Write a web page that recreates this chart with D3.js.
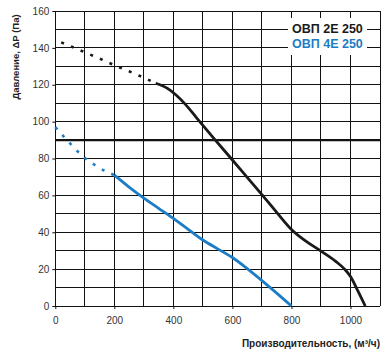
<!DOCTYPE html>
<html><head><meta charset="utf-8">
<script src="https://cdn.jsdelivr.net/npm/d3@7"></script>
<style>body{margin:0;background:#fff}svg{display:block}</style>
</head><body>
<svg id="c" width="387" height="354"></svg>
<script>
const xTicks = [0, 200, 400, 600, 800, 1000];
const yTicks = [0, 20, 40, 60, 80, 100, 120, 140, 160];
const seriesNames = ["ОВП 2Е 250", "ОВП 4Е 250"];
const black2EDashed = [[20,143],[60,140.3],[100,137.6],[150,134.2],[200,130.6],[250,127.3],[300,123.8],[340,120.8]];
const black2ESolid = [[340,120.8],[380,118],[410,114.3],[440,109.5],[480,101.8],[540,90.4],[600,79.2],[650,69.8],[700,60.4],[750,50.8],[800,41.5],[850,35],[900,29.8],[950,24.2],[980,20],[1000,16],[1025,8.2],[1050,0]];
const blue4EDashed = [[0,97],[27,92.2],[53,87.7],[95,81],[129,77],[174,72.8],[200,71]];
const blue4ESolid = [[200,71],[250,64.5],[300,58.5],[350,53],[400,47.5],[450,41.6],[500,35.8],[550,31],[600,26.3],[650,20.3],[700,13.8],[750,7],[800,0]];
const refLine = 90;

const svg = d3.select("#c");
const x = d3.scaleLinear().domain([0, 1100]).range([55.3, 380]);
const y = d3.scaleLinear().domain([0, 160]).range([306, 11]);
const black = "#1a1a1a", blue = "#1c7cc5";

const g = svg.append("g");
g.selectAll(".hg").data(d3.range(0, 161, 10)).join("line")
  .attr("x1", x(0)).attr("x2", x(1100)).attr("y1", d => y(d)).attr("y2", d => y(d))
  .attr("stroke", "#111").attr("stroke-width", 1).attr("shape-rendering", "crispEdges");
g.selectAll(".vg").data(d3.range(0, 1101, 100)).join("line")
  .attr("y1", y(0)).attr("y2", y(160)).attr("x1", d => x(d)).attr("x2", d => x(d))
  .attr("stroke", "#111").attr("stroke-width", 1).attr("shape-rendering", "crispEdges");
g.append("line").attr("x1", x(0)).attr("x2", x(1100)).attr("y1", y(refLine)).attr("y2", y(refLine))
  .attr("stroke", "#111").attr("stroke-width", 2.2);

const yAxis = d3.axisLeft(y).tickValues(yTicks).tickSize(3).tickPadding(3).tickFormat(d3.format("d"));
const ya = svg.append("g").attr("transform", `translate(${x(0)},0)`).call(yAxis);
const xAxis = d3.axisBottom(x).tickValues(xTicks).tickSize(3).tickPadding(8).tickFormat(d3.format("d"));
const xa = svg.append("g").attr("transform", `translate(0,${y(0)})`).call(xAxis);
[ya, xa].forEach(a => {
  a.select(".domain").remove();
  a.selectAll("line").attr("stroke", "#111");
  a.selectAll("text").attr("font-family", "Liberation Sans, Arial, sans-serif").attr("font-size", 10).attr("fill", "#333");
});

const line = d3.line().x(d => x(d[0])).y(d => y(d[1])).curve(d3.curveMonotoneX);
svg.append("path").attr("d", line(black2EDashed)).attr("fill", "none").attr("stroke", black)
  .attr("stroke-width", 2.6).attr("stroke-dasharray", "3,7.5");
svg.append("path").attr("d", line(black2ESolid)).attr("fill", "none").attr("stroke", black)
  .attr("stroke-width", 2.8);
svg.append("path").attr("d", line(blue4EDashed)).attr("fill", "none").attr("stroke", blue)
  .attr("stroke-width", 2.6).attr("stroke-dasharray", "3,7.5");
svg.append("path").attr("d", line(blue4ESolid)).attr("fill", "none").attr("stroke", blue)
  .attr("stroke-width", 2.8);

svg.append("rect").attr("x", 288).attr("y", 18).attr("width", 79).attr("height", 37).attr("fill", "#fff");
const colors = [black, blue];
svg.selectAll(".lg").data(seriesNames).join("text")
  .attr("x", 292).attr("y", (d, i) => 33 + i * 15)
  .attr("font-family", "Liberation Sans, Arial, sans-serif").attr("font-weight", "bold")
  .attr("font-size", 12.5).attr("fill", (d, i) => colors[i]).text(d => d);

svg.append("text").attr("transform", "translate(18.5,57) rotate(-90)")
  .attr("text-anchor", "middle").attr("font-family", "Liberation Sans, Arial, sans-serif")
  .attr("font-weight", "bold").attr("font-size", 9.5).attr("fill", "#222")
  .text("Давление, ΔP (Па)");
svg.append("text").attr("x", 380).attr("y", 347).attr("text-anchor", "end")
  .attr("font-family", "Liberation Sans, Arial, sans-serif")
  .attr("font-weight", "bold").attr("font-size", 10).attr("fill", "#222")
  .text("Производительность, (м³/ч)");
</script>
</body></html>
